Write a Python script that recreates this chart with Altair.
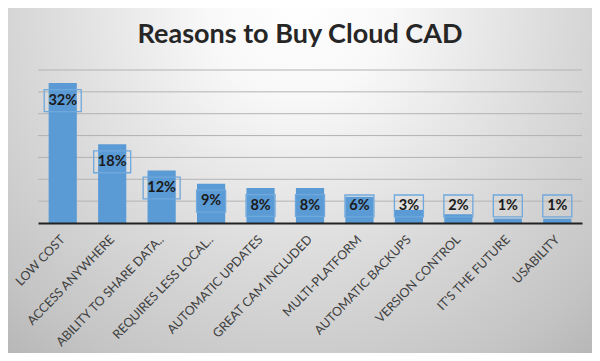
import altair as alt
import pandas as pd

title_text = "Reasons to Buy Cloud CAD"
categories = ["LOW COST", "ACCESS ANYWHERE", "ABILITY TO SHARE DATA..", "REQUIRES LESS LOCAL..",
              "AUTOMATIC UPDATES", "GREAT CAM INCLUDED", "MULTI-PLATFORM", "AUTOMATIC BACKUPS",
              "VERSION CONTROL", "IT'S THE FUTURE", "USABILITY"]
values = [32, 18, 12, 9, 8, 8, 6, 3, 2, 1, 1]
grid_values = [5, 10, 15, 20, 25, 30, 35]

W, H = 544, 153
PAD = {"left": 30, "top": 62, "right": 10, "bottom": 130}
BLUE = "#5B9BD5"

df = pd.DataFrame({"reason": categories, "value": values,
                   "label": [f"{v}%" for v in values]})
grid_df = pd.DataFrame({"g": grid_values})
title_df = pd.DataFrame({"t": [title_text]})
one = pd.DataFrame({"a": [0]})

xscale = alt.Scale(paddingInner=0.43, paddingOuter=0.215)
yscale = alt.Scale(domain=[0, 35], nice=False)

bg = alt.Chart(one).mark_rect(
    fill=alt.Gradient(gradient="radial",
                      stops=[alt.GradientStop(color="#ffffff", offset=0),
                             alt.GradientStop(color="#f8f8f8", offset=0.2),
                             alt.GradientStop(color="#dbdbdb", offset=0.55),
                             alt.GradientStop(color="#c4c4c4", offset=0.85),
                             alt.GradientStop(color="#b4b4b4", offset=1)],
                      x1=0.5, y1=0.2, r1=0, x2=0.5, y2=0.2, r2=0.8)
).encode(x=alt.value(-PAD["left"]), x2=alt.value(W + PAD["right"]),
         y=alt.value(-PAD["top"]), y2=alt.value(H + PAD["bottom"]))

title = alt.Chart(title_df).mark_text(
    font="Lato", fontSize=27, fontWeight="bold", color="#262626",
    align="center", baseline="alphabetic"
).encode(x=alt.value(262), y=alt.value(-27), text="t:N")

grid = alt.Chart(grid_df).mark_rule(color="#b3b3b3", strokeWidth=1).encode(
    y=alt.Y("g:Q", scale=yscale, axis=None),
    x=alt.value(0), x2=alt.value(W))

base = alt.Chart(df).encode(
    x=alt.X("reason:N", sort=categories, scale=xscale,
            axis=alt.Axis(title=None, labelAngle=-46, labelAlign="right", labelBaseline="middle",
                          labelFontSize=12.5, labelFont="Lato", labelColor="#404040",
                          labelPadding=14, labelLimit=0, ticks=False, grid=False,
                          domainColor="#222222", domainWidth=2, zindex=1)))

bars = base.mark_bar(color=BLUE).encode(y=alt.Y("value:Q", scale=yscale, axis=None))

pos = base.transform_calculate(
    pos="max(datum.value - 4, 3.9)",
    lo="max(datum.value - 4, 3.9) - 2.5",
    hi="max(datum.value - 4, 3.9) + 2.5")

box2 = pos.transform_filter("datum.value >= 10").mark_bar(
    width=37, filled=False, stroke="#6fa8dc", strokeWidth=1.3).encode(
    y=alt.Y("lo:Q", scale=yscale, axis=None), y2="hi:Q")
box1 = pos.transform_filter("datum.value < 10").mark_bar(
    width=29, filled=False, stroke="#6fa8dc", strokeWidth=1.3).encode(
    y=alt.Y("lo:Q", scale=yscale, axis=None), y2="hi:Q")

text = pos.mark_text(font="Lato", fontWeight="bold", fontSize=14.5, color="#1a1a1a",
                     baseline="middle").encode(
    y=alt.Y("pos:Q", scale=yscale, axis=None), text="label:N")

chart = alt.layer(bg, title, grid, bars, box2, box1, text).properties(
    width=W, height=H,
    autosize=alt.AutoSizeParams(type="none"),
    padding=PAD,
    background="#c4c4c4"
).configure_view(stroke=None)

chart.save("out.html", embed_options={"renderer": "svg", "actions": False})
